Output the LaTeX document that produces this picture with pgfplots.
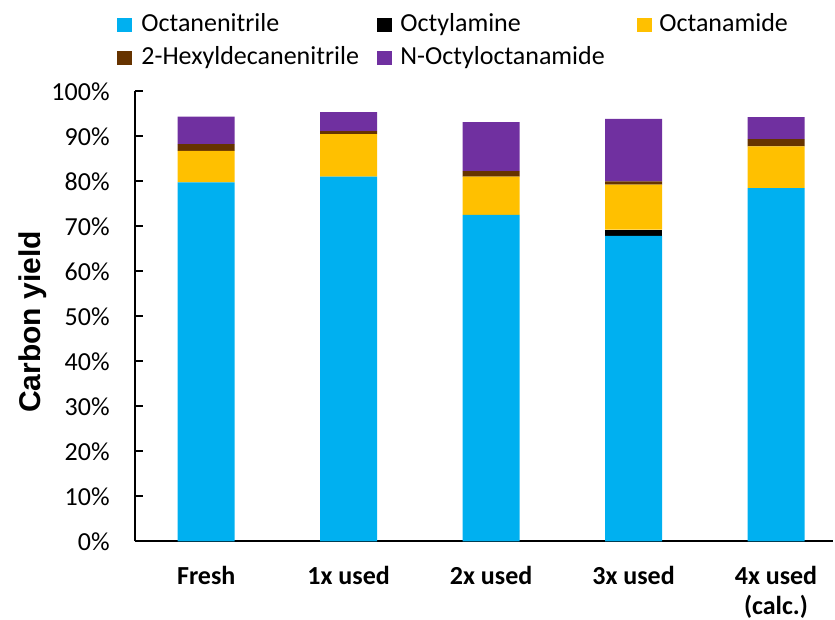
\documentclass[border=0pt]{standalone}
\usepackage{pgfplots}
\pgfplotsset{compat=1.18}
\usepackage{fontspec}
\setmainfont{Carlito}
\newfontfamily\arialfont{Liberation Sans}
\definecolor{cBlue}{HTML}{00B0F0}
\definecolor{cYellow}{HTML}{FFC000}
\definecolor{cBrown}{HTML}{663300}
\definecolor{cPurple}{HTML}{7030A0}
\newcommand{\lfont}{\fontsize{13}{15}\selectfont}
\begin{document}
\begin{tikzpicture}
\path (0pt,0pt) rectangle (417.5pt,310pt);
\begin{axis}[
  at={(67.5pt,39.25pt)}, anchor=south west,
  scale only axis, width=349pt, height=225pt,
  ymin=0, ymax=100, xmin=-0.5, xmax=4.4,
  ybar stacked, bar width=28.5pt,
  axis x line*=bottom, axis y line*=left,
  axis line style={black, line width=1pt},
  xtick={0,1,2,3,4},
  xticklabels={Fresh,1x used,2x used,3x used,{4x used\\(calc.)}},
  x tick style={draw=none},
  xticklabel style={font=\bfseries\lfont, align=center, inner sep=0pt, anchor=north, yshift=-12pt},
  ytick={0,10,...,100},
  yticklabels={0\%,10\%,20\%,30\%,40\%,50\%,60\%,70\%,80\%,90\%,100\%},
  yticklabel style={font=\lfont, inner sep=0pt, anchor=east, xshift=-12.5pt},
  y tick style={black, line width=1pt},
  tick align=inside, major tick length=4pt,
  ylabel={\arialfont\bfseries Carbon yield},
  ylabel style={at={(axis description cs:-0.147,0.488)}, anchor=center, font=\fontsize{15}{17}\selectfont},
  clip=false,
]
\addplot+[fill=cBlue, draw=none] coordinates {(0,79.8) (1,81.1) (2,72.6) (3,67.9) (4,78.5)};
\addplot+[fill=black, draw=none] coordinates {(0,0) (1,0) (2,0) (3,1.4) (4,0)};
\addplot+[fill=cYellow, draw=none] coordinates {(0,7.0) (1,9.4) (2,8.5) (3,10.0) (4,9.3)};
\addplot+[fill=cBrown, draw=none] coordinates {(0,1.5) (1,0.7) (2,1.2) (3,0.7) (4,1.6)};
\addplot+[fill=cPurple, draw=none] coordinates {(0,6.1) (1,4.2) (2,10.9) (3,13.9) (4,4.9)};
\end{axis}
% legend
\fill[cBlue] (58.5pt,294pt) rectangle (66pt,301pt);
\node[anchor=base west, inner sep=0, font=\lfont] at (70.5pt,294pt) {Octanenitrile};
\fill[black] (188.5pt,294pt) rectangle (196pt,301pt);
\node[anchor=base west, inner sep=0, font=\lfont] at (200pt,294pt) {Octylamine};
\fill[cYellow] (318.5pt,294pt) rectangle (326pt,301pt);
\node[anchor=base west, inner sep=0, font=\lfont] at (329.5pt,294pt) {Octanamide};
\fill[cBrown] (58.5pt,277.5pt) rectangle (66pt,284.5pt);
\node[anchor=base west, inner sep=0, font=\lfont] at (70.5pt,277.5pt) {2-Hexyldecanenitrile};
\fill[cPurple] (188.5pt,277.5pt) rectangle (196pt,284.5pt);
\node[anchor=base west, inner sep=0, font=\lfont] at (200pt,277.5pt) {N-Octyloctanamide};
\end{tikzpicture}
\end{document}
